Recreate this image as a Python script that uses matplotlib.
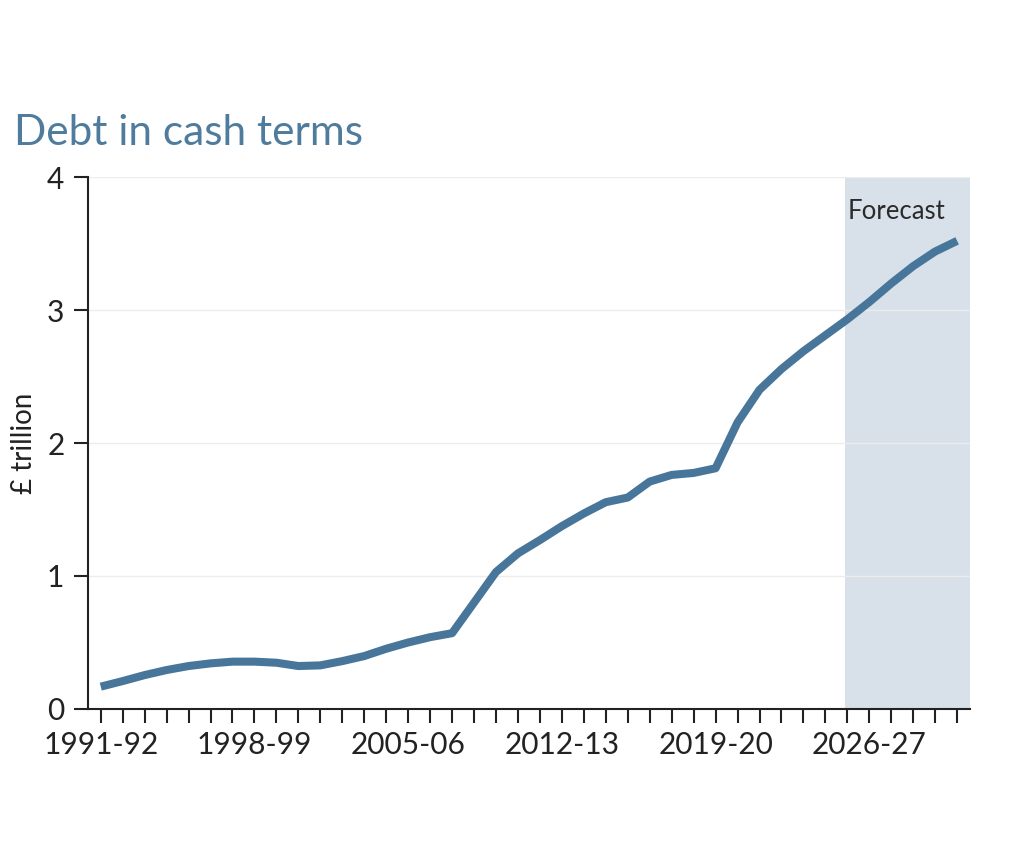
"""debt_chart - plot public sector debt in cash terms with the forecast period shaded."""

import matplotlib
matplotlib.use('Agg')
import matplotlib.pyplot as plt


# Financial years, 1991-92 to 2030-31
years = ['%d-%02d' % (y, (y + 1) % 100) for y in range(1991, 2031)]

# Debt, in pounds trillion
debt = [0.168, 0.21, 0.255, 0.293, 0.323, 0.343, 0.356, 0.356, 0.348, 0.323,
        0.328, 0.36, 0.398, 0.453, 0.50, 0.54, 0.57, 0.80, 1.03, 1.17,
        1.27, 1.375, 1.47, 1.555, 1.59, 1.71, 1.76, 1.775, 1.81, 2.155,
        2.40, 2.556, 2.69, 2.81, 2.93, 3.06, 3.20, 3.33, 3.44, 3.52]

forecast_from = '2025-26'
y_ticks = [0, 1, 2, 3, 4]

LINE_COLOUR = '#47769a'
TITLE_COLOUR = '#4f7c9c'
SHADE_COLOUR = '#d8e1ea'
FONT = ['Lato', 'DejaVu Sans']


def create_chart():
    """Draw the debt line chart."""
    plt.rcParams['font.family'] = FONT
    fig = plt.figure(figsize=(10.22, 8.66), dpi=100)
    ax = fig.add_axes([0.0861, 0.1813, 0.949 - 0.0861, 0.7956 - 0.1813])

    ind = list(range(len(years)))
    xmax = len(years) - 0.42

    # Forecast shading
    start = years.index(forecast_from) - 0.1
    ax.axvspan(start, xmax, color=SHADE_COLOUR, lw=0, zorder=0)
    ax.text(start + 0.13, 3.74, 'Forecast', fontsize=18.5, color='#2b2b2b',
            va='center', ha='left')

    ax.plot(ind, debt, color=LINE_COLOUR, lw=5.8, solid_capstyle='butt',
            solid_joinstyle='round', zorder=3)

    ax.set_xlim(-0.58, xmax)
    ax.set_ylim(0, 4)

    ax.set_xticks(ind)
    ax.set_xticklabels([lab if i % 7 == 0 else '' for i, lab in enumerate(years)])
    ax.set_yticks(y_ticks)
    ax.set_yticklabels([str(t) for t in y_ticks])

    ax.grid(axis='y', color='#ececec', lw=1)
    ax.set_axisbelow(True)

    for side in ('top', 'right'):
        ax.spines[side].set_visible(False)
    for side in ('left', 'bottom'):
        ax.spines[side].set_linewidth(1.5)
        ax.spines[side].set_color('#222222')

    ax.tick_params(axis='both', direction='out', length=10, width=1.5,
                   colors='#222222', labelsize=21.5)
    ax.tick_params(axis='x', pad=6)
    ax.tick_params(axis='y', pad=7)

    ax.set_ylabel('£ trillion', fontsize=20, color='#222222')
    ax.yaxis.set_label_coords(-0.058, 0.5)

    fig.text(14 / 1022, 1 - 133 / 866, 'Debt in cash terms', fontsize=30.5,
             color=TITLE_COLOUR, va='center', ha='left')
    return fig


def main():
    fig = create_chart()
    fig.savefig('out.png', dpi=100)


if '__main__' == __name__:
    main()
